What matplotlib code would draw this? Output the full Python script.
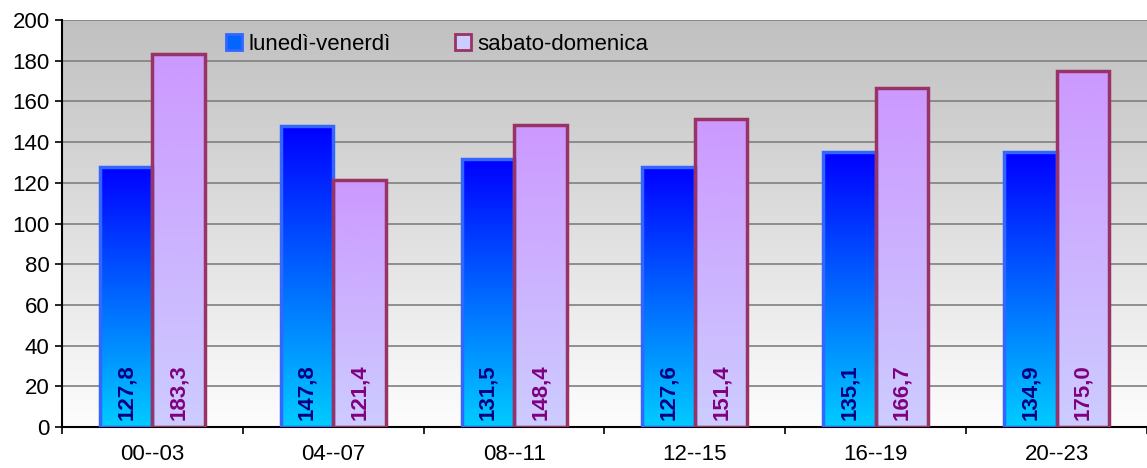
import numpy as np
import matplotlib
matplotlib.use('Agg')
import matplotlib.pyplot as plt
from matplotlib.colors import LinearSegmentedColormap
from matplotlib.patches import Patch

plt.rcParams['font.family'] = ['Liberation Sans', 'DejaVu Sans']

# data
fasce = ['00--03', '04--07', '08--11', '12--15', '16--19', '20--23']
feriali = [127.8, 147.8, 131.5, 127.6, 135.1, 134.9]
festivi = [183.3, 121.4, 148.4, 151.4, 166.7, 175.0]
serie = ['lunedì-venerdì', 'sabato-domenica']

fig = plt.figure(figsize=(11.47, 4.68), dpi=100)
ax = fig.add_axes([62/1147, 1-427/468, 1-62/1147, 407/468])

# background gradient grey -> white
bg = LinearSegmentedColormap.from_list('bg', ['#fdfdfd', '#c0c0c0'])
ax.imshow(np.linspace(0, 1, 256).reshape(-1, 1), cmap=bg, aspect='auto',
          extent=[-0.5, 5.5, 0, 200], origin='lower', zorder=0)

ax.set_xlim(-0.5, 5.5)
ax.set_ylim(0, 200)
ax.set_yticks(range(0, 201, 20))
ax.yaxis.grid(True, color='#808080', lw=1.2, zorder=1)
ax.set_axisbelow(True)

x = np.arange(len(fasce))
w = 0.29
cm_blu = LinearSegmentedColormap.from_list('blu', ['#00ccff', '#0000ff'])
cm_vio = LinearSegmentedColormap.from_list('vio', ['#ccccff', '#cc99ff'])
grad = np.linspace(0, 1, 256).reshape(-1, 1)

b1 = ax.bar(x - w/2, feriali, w, facecolor='none', edgecolor='#3366ff', lw=2.5, zorder=3)
b2 = ax.bar(x + w/2, festivi, w, facecolor='none', edgecolor='#993366', lw=2.5, zorder=3)

for bars, cm in ((b1, cm_blu), (b2, cm_vio)):
    for b in bars:
        x0 = b.get_x()
        im = ax.imshow(grad, cmap=cm, aspect='auto', origin='lower',
                       extent=[x0, x0 + b.get_width(), 0, b.get_height()], zorder=2)
        im.set_clip_path(b)

for xi, v in zip(x, feriali):
    ax.text(xi - w/2, 3.5, f'{v:.1f}'.replace('.', ','), rotation=90, ha='center', va='bottom',
            fontsize=16, fontweight='bold', color='#000080', zorder=4)
for xi, v in zip(x, festivi):
    ax.text(xi + w/2, 3.5, f'{v:.1f}'.replace('.', ','), rotation=90, ha='center', va='bottom',
            fontsize=16, fontweight='bold', color='#800080', zorder=4)

ax.set_xticks(x)
ax.set_xticklabels(fasce)
ax.set_xticks(np.arange(-0.5, 6, 1), minor=True)
ax.tick_params(axis='x', which='major', length=0, pad=12, labelsize=16)
ax.tick_params(axis='x', which='minor', length=5, width=1.2)
ax.tick_params(axis='y', length=5, width=1.2, labelsize=16, pad=4)

for s in ('top', 'right'):
    ax.spines[s].set_visible(False)
ax.spines['left'].set_linewidth(1.5)
ax.spines['bottom'].set_linewidth(1.5)

handles = [Patch(facecolor='#0066ff', edgecolor='#3366ff', lw=2),
           Patch(facecolor='#ccccff', edgecolor='#993366', lw=2)]
ax.legend(handles, serie, loc='upper left', bbox_to_anchor=(0.133, 1.015), ncol=2,
          frameon=False, fontsize=16, handlelength=0.7, handleheight=0.7,
          columnspacing=2.9, handletextpad=0.3)

fig.savefig('out.png', dpi=100)
